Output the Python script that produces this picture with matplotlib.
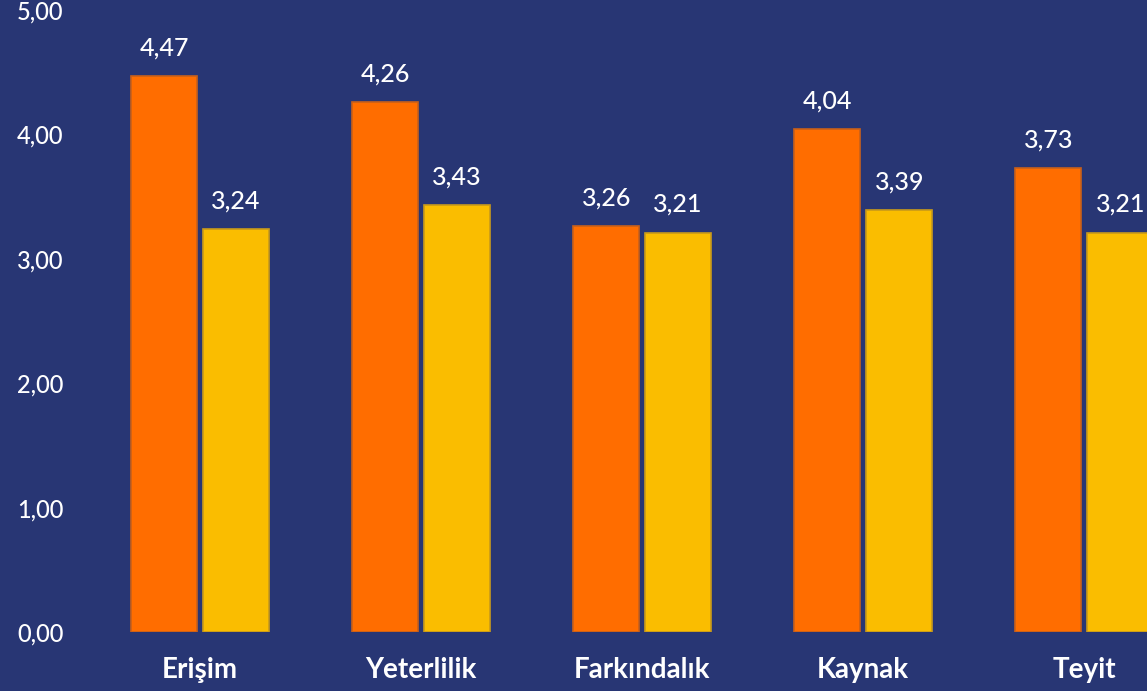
import matplotlib
matplotlib.use('Agg')
import numpy as np
import matplotlib.pyplot as plt

# -----------------------------
# DATA
# -----------------------------
categories = ["Erişim", "Yeterlilik", "Farkındalık", "Kaynak", "Teyit"]
series_a = [4.47, 4.26, 3.26, 4.04, 3.73]
series_b = [3.24, 3.43, 3.21, 3.39, 3.21]
yticks = [0, 1, 2, 3, 4, 5]

bg = "#283674"
orange = "#FF6D00"
yellow = "#FABD00"

plt.rcParams['font.family'] = ['Lato', 'DejaVu Sans']

fig = plt.figure(figsize=(11.47, 6.91), dpi=100, facecolor=bg)
W, H = 1147, 691
# axes box in pixels: left 80, right 1147, bottom 632, top 10
ax = fig.add_axes([80 / W, (H - 632) / H, (W - 80) / W, (632 - 10) / H])
ax.set_facecolor(bg)

x = np.arange(len(categories))
# group centre at 200 px, step 221.1 px -> x limits in data units
px_per = 221.1
ax.set_xlim((80 - 200) / px_per, (1147 - 200) / px_per)
ax.set_ylim(0, 5)

w = 66 / px_per
off = 36 / px_per
bars_a = ax.bar(x - off, series_a, width=w, color=orange, edgecolor="#C8601A", linewidth=1.2)
bars_b = ax.bar(x + off, series_b, width=w, color=yellow, edgecolor="#C89A1A", linewidth=1.2)

for bars, vals in [(bars_a, series_a), (bars_b, series_b)]:
    for b, v in zip(bars, vals):
        ax.annotate(f"{v:.2f}".replace(".", ","),
                    (b.get_x() + b.get_width() / 2, v),
                    xytext=(0, 12), textcoords="offset points",
                    ha="center", va="bottom", color="white", fontsize=18,
                    fontweight="medium")

ax.set_yticks(yticks)
ax.set_yticklabels([f"{t:.2f}".replace(".", ",") for t in yticks], color="white",
                   fontsize=17, fontweight="medium")
ax.set_xticks(x)
ax.set_xticklabels(categories, color="white", fontsize=20, fontweight="bold")
ax.tick_params(axis="y", length=0, pad=12)
ax.tick_params(axis="x", length=0, pad=18)
for s in ax.spines.values():
    s.set_visible(False)

fig.savefig("out.png", dpi=100, facecolor=bg)
